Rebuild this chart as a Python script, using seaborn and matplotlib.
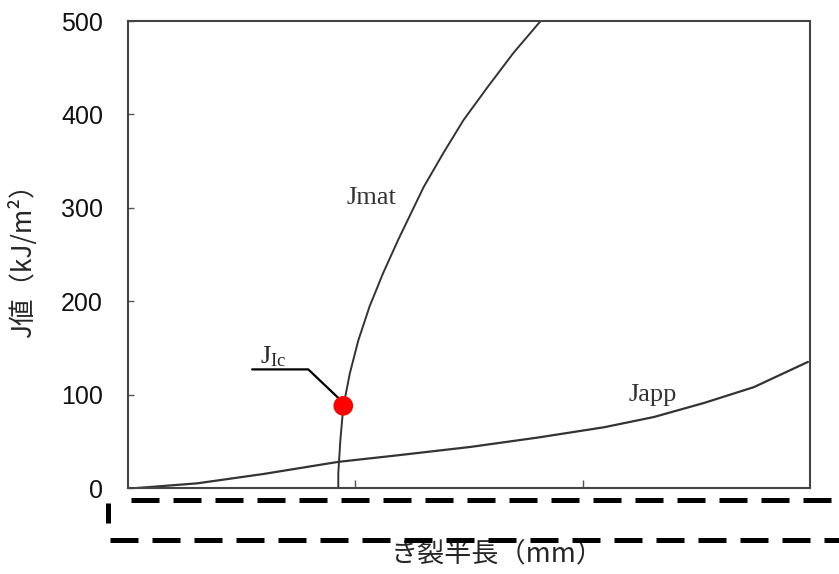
import matplotlib
matplotlib.use("Agg")
import matplotlib.pyplot as plt
import matplotlib.lines as mlines
import pandas as pd
import seaborn as sns

# Data (crack half-length in tick units, J in kJ/m2)
jmat_x = [0.925, 0.925, 0.934, 0.947, 0.976, 1.013, 1.062, 1.122, 1.189,
          1.300, 1.388, 1.476, 1.581, 1.696, 1.815]
jmat_y = [0, 16, 51, 87, 123, 158, 194, 230, 266,
          322, 359, 394, 429, 466, 500]

japp_x = [0.040, 0.304, 0.595, 0.925, 1.185, 1.507, 1.802, 2.093, 2.313, 2.533, 2.753, 2.991]
japp_y = [0, 5, 15, 28, 35, 44, 54, 65, 76, 91, 108, 135]

jic_x = [0.947]
jic_y = [88]

y_ticks = [0, 100, 200, 300, 400, 500]
x_ticks = [1, 2]

sns.set_style("white")
plt.rcParams['font.family'] = ['Liberation Sans', 'Noto Sans CJK JP', 'DejaVu Sans']
plt.rcParams['mathtext.fontset'] = 'custom'
plt.rcParams['mathtext.rm'] = 'Liberation Serif'

fig = plt.figure(figsize=(8.39, 5.74), dpi=100)
ax = fig.add_axes([0.1526, 0.1498, 0.8128, 0.8136])

df_mat = pd.DataFrame({"x": jmat_x, "J": jmat_y})
df_app = pd.DataFrame({"x": japp_x, "J": japp_y})

sns.lineplot(data=df_mat, x="x", y="J", sort=False, estimator=None,
             color="#333333", lw=1.4, ax=ax)
sns.lineplot(data=df_app, x="x", y="J", sort=False, estimator=None,
             color="#333333", lw=1.6, ax=ax)
sns.scatterplot(x=jic_x, y=jic_y, color="#ff0000", s=200, edgecolor="none", zorder=5, ax=ax)

# leader line to J_Ic
ax.plot([0.546, 0.793, jic_x[0] - 0.02], [127, 127, jic_y[0] + 8], color="black", lw=1.6)
ax.text(0.58, 141, r"$\mathrm{J_{Ic}}$", fontsize=19, ha="left", va="center")
ax.text(1.07, 310, "Jmat", fontsize=19, family="Liberation Serif", color="#333333",
        ha="center", va="center")
ax.text(2.31, 100, "Japp", fontsize=19, family="Liberation Serif", color="#333333",
        ha="center", va="center")

ax.set_xlim(0, 3.0)
ax.set_ylim(0, 500)
ax.set_yticks(y_ticks)
ax.set_xticks(x_ticks)
ax.set_xticklabels([])
ax.tick_params(axis="y", left=True, direction="in", length=4, width=1, pad=18,
               labelsize=18, color="#555555", labelcolor="#111111")
ax.tick_params(axis="x", bottom=True, direction="in", length=6, width=1, color="#555555")
for s in ax.spines.values():
    s.set_color("#444444")
    s.set_linewidth(1.5)

ax.set_ylabel("J値（kJ/m²）", fontsize=19, family=['Noto Sans CJK JP', 'DejaVu Sans'])
ax.yaxis.set_label_coords(-0.134, 0.5)
ax.set_xlabel("き裂半長（mm）", fontsize=19.5, family=['Noto Sans CJK JP', 'DejaVu Sans'])
ax.xaxis.set_label_coords(0.541, -0.112)

# heavy dashed marks below the axis
for x0, y0 in [(0.156, 0.129), (0.131, 0.0592)]:
    ln = mlines.Line2D([x0, 1.0], [y0, y0], transform=fig.transFigure, color="black",
                       lw=3.6, solid_capstyle="butt", dash_capstyle="butt")
    ln.set_dashes((5.6, 2.8))
    fig.add_artist(ln)
fig.add_artist(mlines.Line2D([0.129, 0.129], [0.089, 0.124], transform=fig.transFigure,
                             color="black", lw=3.6, solid_capstyle="butt"))

fig.savefig("out.png", dpi=100)
